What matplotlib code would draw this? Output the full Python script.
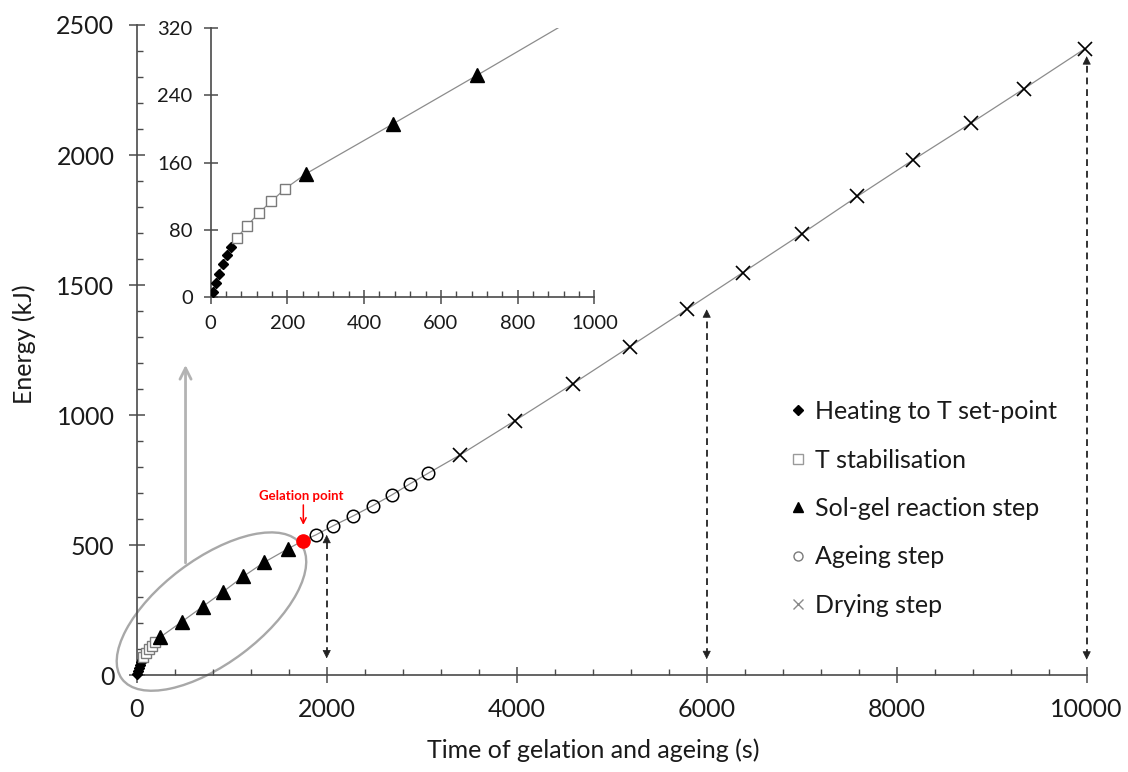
import numpy as np
import matplotlib
matplotlib.use('Agg')
import matplotlib.pyplot as plt
from matplotlib.patches import Ellipse
from matplotlib.transforms import Affine2D, ScaledTranslation
from matplotlib.lines import Line2D
from matplotlib.ticker import MultipleLocator

# ---------------- data ----------------
heat_t = [5, 13, 21, 31, 42, 53]
heat_E = [6, 17, 28, 39, 50, 60]
stab_t = [69, 95, 125, 158, 194]
stab_E = [71, 85, 100, 114, 129]
solgel_t = [249, 475, 695, 905, 1122, 1340, 1596]
solgel_E = [147, 206, 264, 320, 380, 434, 487]
gel_t = [1754]
gel_E = [518]
age_t = [1887, 2069, 2280, 2484, 2684, 2877, 3069]
age_E = [540, 575, 613, 652, 693, 736, 777]
dry_t = [3403, 3982, 4589, 5193, 5796, 6379, 7000, 7585, 8175, 8782, 9340, 9982]
dry_E = [847, 979, 1120, 1264, 1408, 1548, 1697, 1841, 1982, 2123, 2255, 2409]

arrow_t = [2000, 6000, 10000]
arrow_top = [540, 1407, 2380]
arrow_bottom = [65, 62, 60]

labels = ["Heating to T set-point", "T stabilisation", "Sol-gel reaction step",
          "Ageing step", "Drying step"]
main_xticks = [0, 2000, 4000, 6000, 8000, 10000]
main_yticks = [0, 500, 1000, 1500, 2000, 2500]
inset_xticks = [0, 200, 400, 600, 800, 1000]
inset_yticks = [0, 80, 160, 240, 320]

# ---------------- style ----------------
plt.rcParams['font.family'] = ['Lato', 'DejaVu Sans']
AX_COL = '#4a4a4a'
LINE_COL = '#8c8c8c'
W, H = 1128, 772
FS = 18

all_t = np.concatenate([heat_t, stab_t, solgel_t, gel_t, age_t, dry_t])
all_E = np.concatenate([heat_E, stab_E, solgel_E, gel_E, age_E, dry_E])

fig = plt.figure(figsize=(W / 100, H / 100), dpi=100)
fig.patch.set_facecolor('white')

ax = fig.add_axes([136.7 / W, (H - 675.3) / H, 950 / W, 650.3 / H])


def style_axes(a, fs, maj_len, min_len, pad):
    for s in ['top', 'right']:
        a.spines[s].set_visible(False)
    for s in ['left', 'bottom']:
        a.spines[s].set_color(AX_COL)
        a.spines[s].set_linewidth(1.2)
    a.tick_params(which='major', direction='inout', length=maj_len, width=1.1,
                  color=AX_COL, labelsize=fs, pad=pad, labelcolor='#1a1a1a')
    a.tick_params(which='minor', direction='in', length=min_len, width=1.0, color=AX_COL)


def draw_series(a, marker_clip=True, limit=None):
    a.plot(all_t, all_E, color=LINE_COL, lw=0.9, zorder=2)

    def sel(t, e):
        t = np.asarray(t); e = np.asarray(e)
        if limit is not None:
            m = e < limit
            return t[m], e[m]
        return t, e
    t, e = sel(heat_t, heat_E)
    a.plot(t, e, ls='none', marker='D', ms=5.5, mfc='black', mec='black', zorder=3, clip_on=marker_clip)
    t, e = sel(stab_t, stab_E)
    a.plot(t, e, ls='none', marker='s', ms=6.5, mfc='white', mec='#7a7a7a', mew=1.0, zorder=3, clip_on=marker_clip)
    t, e = sel(solgel_t, solgel_E)
    a.plot(t, e, ls='none', marker='^', ms=9.5, mfc='black', mec='black', zorder=3, clip_on=marker_clip)
    t, e = sel(age_t, age_E)
    a.plot(t, e, ls='none', marker='o', ms=9, mfc='none', mec='black', mew=1.1, zorder=3, clip_on=marker_clip)
    t, e = sel(dry_t, dry_E)
    a.plot(t, e, ls='none', marker='x', ms=10, mec='black', mew=1.2, zorder=3, clip_on=marker_clip)


draw_series(ax, marker_clip=False)
ax.plot(gel_t, gel_E, ls='none', marker='o', ms=9.5, mfc='#ff0000', mec='#ff0000', zorder=4)

ax.set_xlim(0, 10000)
ax.set_ylim(0, 2500)
ax.set_xticks(main_xticks)
ax.set_yticks(main_yticks)
ax.xaxis.set_minor_locator(MultipleLocator(400))
ax.yaxis.set_minor_locator(MultipleLocator(100))
style_axes(ax, FS, 12, 4.5, 10)

ax.set_xlabel("Time of gelation and ageing (s)", fontsize=FS, color='#1a1a1a')
ax.set_ylabel("Energy (kJ)", fontsize=FS, color='#1a1a1a')
ax.xaxis.set_label_coords(0.481, -0.115)
ax.xaxis.label.set_va('center')
ax.yaxis.set_label_coords(-0.118, 0.509)
ax.yaxis.label.set_va('center')

# dashed double arrows
for t, top, bot in zip(arrow_t, arrow_top, arrow_bottom):
    ax.plot([t, t], [bot + 15, top - 15], ls=(0, (3.5, 2.5)), color='#333333', lw=1.4, zorder=2, clip_on=False)
    ax.annotate('', xy=(t, top), xytext=(t, top - 30),
                arrowprops=dict(arrowstyle='-|>', color='#222222', lw=0.5, mutation_scale=13,
                                shrinkA=0, shrinkB=0), annotation_clip=False)
    ax.annotate('', xy=(t, bot), xytext=(t, bot + 30),
                arrowprops=dict(arrowstyle='-|>', color='#222222', lw=0.5, mutation_scale=13,
                                shrinkA=0, shrinkB=0), annotation_clip=False)

# gelation point label
ax.annotate('', xy=(gel_t[0], 578), xytext=(gel_t[0], 655),
            arrowprops=dict(arrowstyle='->', color='#ff0000', lw=1.1, mutation_scale=10,
                            shrinkA=0, shrinkB=0))
ax.text(1728, 690, "Gelation point", color='#ff0000', fontsize=9.5, fontweight='bold',
        ha='center', va='center')

# grey ellipse around the early points (drawn in pixel units)
ell_tr = Affine2D() + ScaledTranslation(787, 245, ax.transData)
ell = Ellipse((0, 0), 224, 104, angle=37, fill=False, ec='#a8a8a8', lw=1.7,
              transform=ell_tr, zorder=1, clip_on=False)
ax.add_patch(ell)

# grey arrow to the inset
ax.annotate('', xy=(514, 1193), xytext=(514, 432),
            arrowprops=dict(arrowstyle='->', color='#b3b3b3', lw=2.0, mutation_scale=20,
                            shrinkA=0, shrinkB=0))

# legend
handles = [
    Line2D([], [], ls='none', marker='D', ms=5, mfc='black', mec='black'),
    Line2D([], [], ls='none', marker='s', ms=6.5, mfc='white', mec='#9a9a9a'),
    Line2D([], [], ls='none', marker='^', ms=6.5, mfc='black', mec='black'),
    Line2D([], [], ls='none', marker='o', ms=6.5, mfc='white', mec='#7a7a7a'),
    Line2D([], [], ls='none', marker='x', ms=6.5, mec='#8a8a8a', mew=1.0),
]
leg = ax.legend(handles, labels, loc='upper left', bbox_to_anchor=(790 / W, (H - 400) / H),
                bbox_transform=fig.transFigure, frameon=False, fontsize=FS,
                handlelength=0.65, handletextpad=0.35, labelspacing=1.02,
                borderpad=0, borderaxespad=0)
for txt in leg.get_texts():
    txt.set_color('#1a1a1a')

# ---------------- inset ----------------
axin = fig.add_axes([210.7 / W, (H - 297.3) / H, 383.6 / W, 269.3 / H])
axin.set_facecolor('none')
draw_series(axin, marker_clip=True, limit=320)
axin.set_xlim(0, 1000)
axin.set_ylim(0, 320)
axin.set_xticks(inset_xticks)
axin.set_yticks(inset_yticks)
axin.xaxis.set_minor_locator(MultipleLocator(40))
style_axes(axin, 14.5, 10, 4, 8)

fig.savefig('out.png', dpi=100)
